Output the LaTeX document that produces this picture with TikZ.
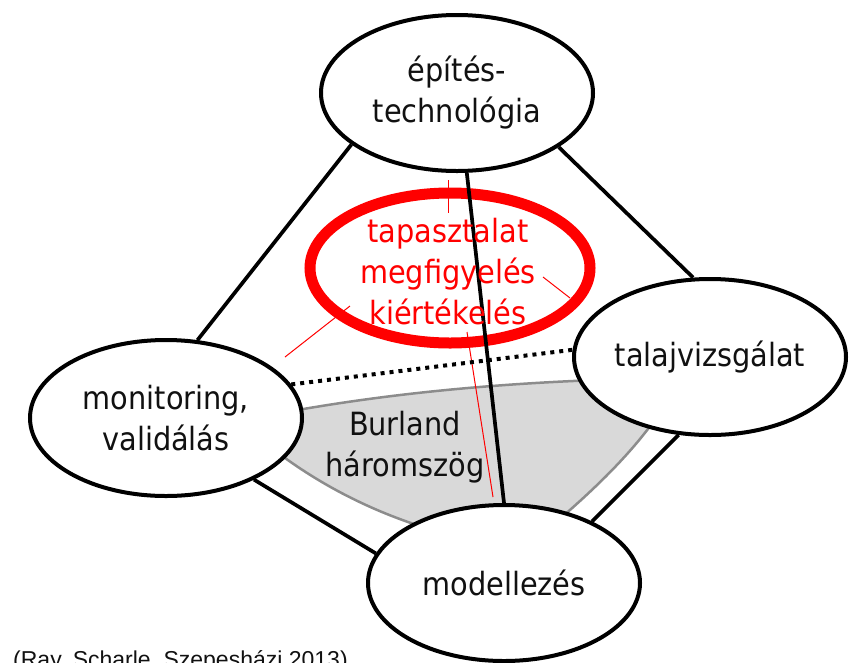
\documentclass[tikz,border=0pt]{standalone}
\usepackage{fontspec}
\setmainfont{DejaVu Sans Condensed}
\newfontfamily\citefont{Liberation Sans}
\usetikzlibrary{shapes.geometric}
\pgfdeclarelayer{back}
\pgfdeclarelayer{mid}
\pgfsetlayers{back,mid,main}
\definecolor{grayfill}{HTML}{D9D9D9}
\definecolor{grayline}{HTML}{8C8C8C}
\definecolor{txt}{HTML}{111111}
\begin{document}
\begin{tikzpicture}[x=1pt,y=-1pt,
  bub/.style={ellipse, draw=black, line width=4pt, fill=white,
    minimum width=272pt, minimum height=156pt, inner sep=0pt,
    align=center, text=txt, font=\fontsize{32}{41}\selectfont},
  conn/.style={line width=3.7pt, black},
  dotconn/.style={line width=4pt, black, dash pattern=on 4pt off 5pt},
  thinred/.style={line width=1pt, red},
  lbl/.style={align=center, inner sep=0pt, font=\fontsize{32}{41}\selectfont}]
\useasboundingbox (0,0) rectangle (856,662);

\begin{pgfonlayer}{back}
  \filldraw[fill=grayfill, draw=grayline, line width=2.5pt]
    (240,421) .. controls (360,396) and (500,380) .. (680,378)
    .. controls (650,440) and (590,495) .. (525,548)
    .. controls (440,540) and (330,505) .. (240,421) -- cycle;
  \node[ellipse, draw=red, line width=11pt, minimum width=280pt,
    minimum height=150pt, inner sep=0pt] (obs) at (450,268) {};
\end{pgfonlayer}

\node[bub] (top) at (457,93) {építés-\\technológia};
\node[bub] (talaj) at (710,357) {talajvizsgálat};
\node[bub] (mon) at (166,418) {monitoring,\\validálás};
\node[bub] (model) at (504,583) {modellezés};

\node[lbl, text=red] (obstext) at (448,272) {tapasztalat\\megfigyelés\\kiértékelés};
\node[lbl, text=txt] (burland) at (405,447) {Burland\\háromszög};
\node[anchor=base west, inner sep=0pt, text=txt,
  font=\citefont\fontsize{23}{28}\selectfont] (cite) at (13,667)
  {(Ray, Scharle, Szepesházi 2013)};

\coordinate (r1a) at (448,180);
\coordinate (r1b) at (448,213);
\coordinate (r2a) at (350,306);
\coordinate (r2b) at (285,357);
\coordinate (r3a) at (543,277);
\coordinate (r3b) at (570,298);
\coordinate (r4a) at (467,332);
\coordinate (r4b) at (493,497);

\begin{pgfonlayer}{mid}
  \draw[thinred] (r1a) -- (r1b);
  \draw[thinred] (r2a) -- (r2b);
  \draw[thinred] (r3a) -- (r3b);
  \draw[thinred] (r4a) -- (r4b);
  \draw[conn] (top.206) -- (mon.68);
  \draw[conn] (top.332) -- (talaj.102);
  \draw[conn] (top.277) -- (model.90);
  \draw[conn] (mon.325) -- (model.167);
  \draw[conn] (talaj.248) -- (model.35);
  \draw[dotconn] (mon.15) -- (talaj.177);
\end{pgfonlayer}
\end{tikzpicture}
\end{document}
